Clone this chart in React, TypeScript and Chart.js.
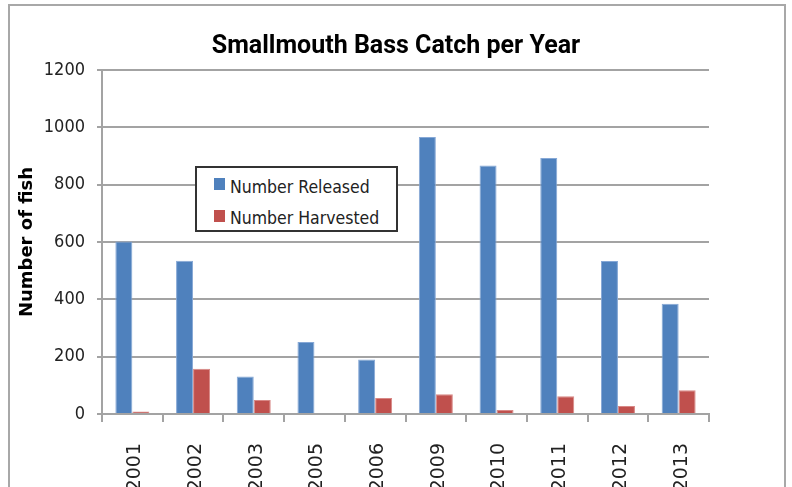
import React, { useEffect, useRef } from "react";
import { Chart, registerables } from "chart.js";

Chart.register(...registerables);

const years = ["2001", "2002", "2003", "2005", "2006", "2009", "2010", "2011", "2012", "2013"];
const released = [602, 535, 131, 251, 190, 966, 867, 893, 534, 385];
const harvested = [9, 158, 49, 0, 56, 69, 14, 62, 28, 83];
const seriesNames = ["Number Released", "Number Harvested"];
const seriesColors = ["#4F81BD", "#C0504D"];
const seriesBorders = ["#86A8D6", "#D88886"];
const yMin = 0;
const yMax = 1200;
const yStep = 200;

const COND = '"DejaVu Sans Condensed", "DejaVu Sans", sans-serif';
const GRID = "#a3a3a3";

export default function App() {
  const canvasRef = useRef<HTMLCanvasElement | null>(null);

  useEffect(() => {
    const canvas = canvasRef.current;
    if (!canvas) return;
    const chart = new Chart(canvas, {
      type: "bar",
      data: {
        labels: years,
        datasets: [
          {
            label: seriesNames[0],
            data: released,
            backgroundColor: seriesColors[0],
            borderColor: seriesBorders[0],
            borderWidth: 1,
          },
          {
            label: seriesNames[1],
            data: harvested,
            backgroundColor: seriesColors[1],
            borderColor: seriesBorders[1],
            borderWidth: 1,
          },
        ],
      },
      options: {
        responsive: false,
        animation: false,
        events: [],
        layout: { padding: 0 },
        datasets: {
          bar: { categoryPercentage: 0.56, barPercentage: 1.0 },
        },
        plugins: {
          legend: { display: false },
          tooltip: { enabled: false },
          title: {
            display: true,
            text: "Smallmouth Bass Catch per Year",
            color: "#000",
            font: { family: "Roboto", size: 25, weight: "bold" },
            padding: { top: 32, bottom: 8 },
          },
        },
        scales: {
          x: {
            grid: {
              offset: true,
              drawOnChartArea: false,
              drawTicks: true,
              tickLength: 8,
              color: GRID,
              lineWidth: 2,
            },
            border: { display: true, color: GRID, width: 2 },
            ticks: {
              minRotation: 90,
              maxRotation: 90,
              autoSkip: false,
              padding: 21,
              labelOffset: 3,
              color: "#222",
              font: { family: "DejaVu Sans", size: 19 },
            },
            afterFit: (s: any) => {
              s.height = 73;
            },
          },
          y: {
            min: yMin,
            max: yMax,
            ticks: {
              stepSize: yStep,
              padding: 12,
              color: "#222",
              font: { family: COND, size: 18 },
              callback: (v: any) => String(v),
            },
            grid: { color: GRID, lineWidth: 2, tickLength: 5 },
            border: { display: true, color: GRID, width: 2 },
            title: {
              display: true,
              text: "Number of fish",
              color: "#000",
              font: { family: "DejaVu Sans", size: 18, weight: "bold" },
              padding: { top: 17, bottom: 0 },
            },
            afterFit: (s: any) => {
              s.width = 102;
            },
          },
          spacer: {
            type: "linear",
            position: "right",
            display: true,
            grid: { display: false, drawTicks: false },
            border: { display: false },
            ticks: { display: false },
            afterFit: (s: any) => {
              s.width = 83;
            },
          },
        },
      },
    });
    return () => chart.destroy();
  }, []);

  const legendText: React.CSSProperties = {
    position: "absolute",
    left: 230,
    fontFamily: COND,
    fontSize: 17.5,
    lineHeight: "24px",
    color: "#222",
    whiteSpace: "nowrap",
  };

  return (
    <div
      style={{
        position: "fixed",
        left: 0,
        top: 0,
        width: 792,
        height: 487,
        overflow: "hidden",
        background: "#fff",
      }}
    >
      <div
        style={{
          position: "absolute",
          left: 8,
          top: 4,
          width: 778,
          height: 700,
          border: "2px solid #a8a8a8",
          boxSizing: "border-box",
        }}
      />
      <canvas
        ref={canvasRef}
        width={792}
        height={487}
        style={{ position: "absolute", left: 0, top: 0, width: 792, height: 487, display: "block" }}
      />
      <div
        style={{
          position: "absolute",
          left: 195,
          top: 166,
          width: 203,
          height: 66,
          border: "2px solid #333",
          boxSizing: "border-box",
          background: "#fff",
        }}
      />
      <div style={{ position: "absolute", left: 214, top: 178, width: 11, height: 12, background: seriesColors[0] }} />
      <div style={{ ...legendText, top: 175 }}>{seriesNames[0]}</div>
      <div style={{ position: "absolute", left: 214, top: 210, width: 11, height: 12, background: seriesColors[1] }} />
      <div style={{ ...legendText, top: 206 }}>{seriesNames[1]}</div>
    </div>
  );
}
